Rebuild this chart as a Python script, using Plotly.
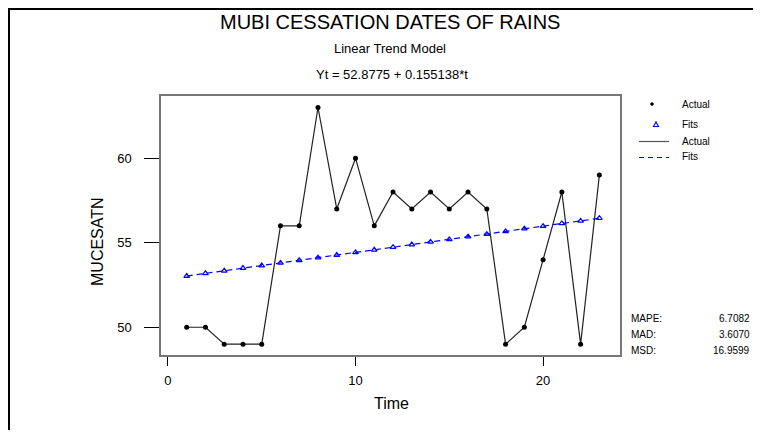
import plotly.graph_objects as go

# ---- data ----
time = list(range(1, 24))
actual = [50, 50, 49, 49, 49, 56, 56, 63, 57, 60, 56, 58, 57, 58, 57, 58, 57, 49, 50, 54, 58, 49, 59]
fits = [53.03, 53.19, 53.34, 53.50, 53.65, 53.81, 53.96, 54.12, 54.27, 54.43, 54.58, 54.74,
        54.89, 55.05, 55.20, 55.36, 55.51, 55.67, 55.83, 55.98, 56.14, 56.29, 56.45]
x_ticks = [0, 10, 20]
y_ticks = [50, 55, 60]
stat_names = ["MAPE:", "MAD:", "MSD:"]
stat_values = ["6.7082", "3.6070", "16.9599"]
title = "MUBI CESSATION DATES OF RAINS"
subtitle1 = "Linear Trend Model"
subtitle2 = "Yt = 52.8775 + 0.155138*t"

OFF = 8  # page body margin
W, H = 761 - 2 * OFF, 438 - 2 * OFF
L, R, T, B = 161, 620, 96, 355  # plot area in page pixels


def px(x):
    return (x - L) / (R - L)


def py(y):
    return (B - y) / (B - T)


FONT = "Liberation Sans, Arial, sans-serif"
BLUE = "#0000ff"

fig = go.Figure()
fig.add_trace(go.Scatter(x=time, y=actual, mode="lines", line=dict(color="#222222", width=1.2),
                         showlegend=False, hoverinfo="skip"))
fig.add_trace(go.Scatter(x=time, y=actual, mode="markers",
                         marker=dict(color="black", size=5, symbol="circle"), showlegend=False))
fig.add_trace(go.Scatter(x=time, y=fits, mode="lines+markers",
                         line=dict(color=BLUE, width=1.2, dash="6px,4px"),
                         marker=dict(color=BLUE, size=5, symbol="triangle-up-open", line=dict(width=1.2)),
                         showlegend=False))

shapes = [
    # outer border (left and top)
    dict(type="line", xref="paper", yref="paper", x0=px(9), x1=px(9), y0=py(8), y1=py(440),
         line=dict(color="black", width=2)),
    dict(type="line", xref="paper", yref="paper", x0=px(8), x1=px(765), y0=py(9), y1=py(9),
         line=dict(color="black", width=2)),
    # legend lines
    dict(type="line", xref="paper", yref="paper", x0=px(639), x1=px(669), y0=py(141.5), y1=py(141.5),
         line=dict(color="#555555", width=1.2)),
    dict(type="line", xref="paper", yref="paper", x0=px(639), x1=px(669), y0=py(157.5), y1=py(157.5),
         line=dict(color=BLUE, width=1.2, dash="5px,4px")),
    # legend dot
    dict(type="circle", xref="paper", yref="paper", x0=px(650.5), x1=px(653.5), y0=py(102.5), y1=py(105.5),
         fillcolor="black", line=dict(color="black", width=0.5)),
    # legend triangle
    dict(type="path", xref="paper", yref="paper",
         path="M %f,%f L %f,%f L %f,%f Z" % (px(653.5), py(126.5), px(658.5), py(126.5), px(656), py(122)),
         line=dict(color=BLUE, width=1.1)),
]

ann = []


def text(x, y, s, size, xanchor="center", yanchor="middle", angle=0):
    ann.append(dict(xref="paper", yref="paper", x=px(x), y=py(y), text=s, showarrow=False,
                    xanchor=xanchor, yanchor=yanchor, textangle=angle,
                    font=dict(family=FONT, size=size, color="black")))


text(390, 22, title, 20)
text(390, 49, subtitle1, 13)
text(392, 75, subtitle2, 13)
text(97, 242, "MUCESATN", 16, angle=-90)
text(391, 403, "Time", 16)
for lbl, yy in zip(["Actual", "Fits", "Actual", "Fits"], [104, 124, 141, 156]):
    text(680, yy, lbl, 10, xanchor="left")
for nm, val, yy in zip(stat_names, stat_values, [318, 334, 350]):
    text(629, yy, nm, 10, xanchor="left")
    text(752, yy, val, 10, xanchor="right")

fig.update_layout(
    width=W, height=H,
    margin=dict(l=L - OFF, r=(W + OFF) - R, t=T - OFF, b=(H + OFF) - B, pad=0),
    paper_bgcolor="white", plot_bgcolor="white",
    shapes=shapes, annotations=ann,
    font=dict(family=FONT, color="black"),
    xaxis=dict(range=[-0.37, 24.1], tickvals=x_ticks, ticks="outside", ticklen=9, tickwidth=1,
               tickcolor="black", showgrid=False, zeroline=False, showline=True, linecolor="#777777",
               linewidth=1.5, mirror=True, tickfont=dict(size=13, family=FONT), ticklabelstandoff=4),
    yaxis=dict(range=[48.36, 63.68], tickvals=y_ticks, ticks="outside", ticklen=15, tickwidth=1,
               tickcolor="black", showgrid=False, zeroline=False, showline=True, linecolor="#777777",
               linewidth=1.5, mirror=True, tickfont=dict(size=13, family=FONT), ticklabelstandoff=10),
    showlegend=False,
)

fig.write_html("out.html")
